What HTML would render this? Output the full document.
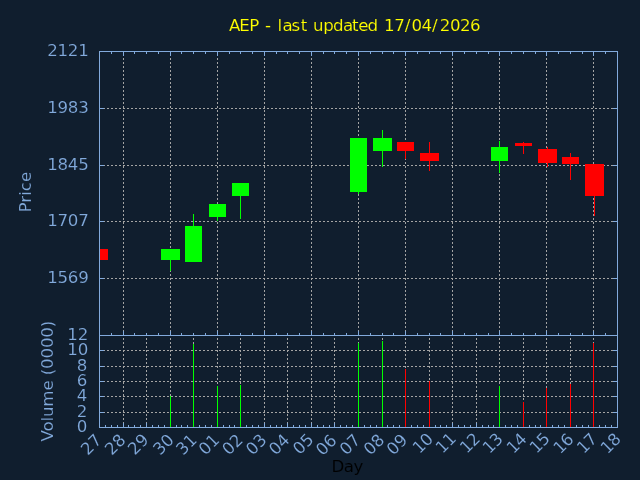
<!DOCTYPE html><html><head><meta charset="utf-8"><title>AEP</title><style>html,body{margin:0;padding:0;background:#101e2e;overflow:hidden}svg{display:block}text{font-family:"DejaVu Sans","Liberation Sans",sans-serif;font-size:16.67px;stroke:#101e2e;stroke-width:0.15px}</style></head><body>
<svg width="640" height="480" viewBox="0 0 640 480">
<rect width="640" height="480" fill="#101e2e"/>
<g stroke="#a4a4a4" stroke-width="1" stroke-dasharray="2 2" shape-rendering="crispEdges" fill="none">
<path d="M123.5 336V52"/>
<path d="M170.5 336V52"/>
<path d="M217.5 336V52"/>
<path d="M264.5 336V52"/>
<path d="M311.5 336V52"/>
<path d="M358.5 336V52"/>
<path d="M405.5 336V52"/>
<path d="M452.5 336V52"/>
<path d="M499.5 336V52"/>
<path d="M546.5 336V52"/>
<path d="M593.5 336V52"/>
<path d="M99 108.5H617"/>
<path d="M99 165.5H617"/>
<path d="M99 221.5H617"/>
<path d="M99 278.5H617"/>
<path d="M123.5 428V336"/>
<path d="M146.5 428V336"/>
<path d="M170.5 428V336"/>
<path d="M193.5 428V336"/>
<path d="M217.5 428V336"/>
<path d="M240.5 428V336"/>
<path d="M264.5 428V336"/>
<path d="M287.5 428V336"/>
<path d="M311.5 428V336"/>
<path d="M334.5 428V336"/>
<path d="M358.5 428V336"/>
<path d="M382.5 428V336"/>
<path d="M405.5 428V336"/>
<path d="M429.5 428V336"/>
<path d="M452.5 428V336"/>
<path d="M476.5 428V336"/>
<path d="M499.5 428V336"/>
<path d="M523.5 428V336"/>
<path d="M546.5 428V336"/>
<path d="M570.5 428V336"/>
<path d="M593.5 428V336"/>
<path d="M99 350.5H617"/>
<path d="M99 366.5H617"/>
<path d="M99 381.5H617"/>
<path d="M99 396.5H617"/>
<path d="M99 412.5H617"/>
</g>
<g stroke="#82aadc" stroke-width="1" shape-rendering="crispEdges" fill="none">
<path d="M111.5 52v2 M111.5 335v-2"/>
<path d="M123.5 52v4 M123.5 335v-4"/>
<path d="M134.5 52v2 M134.5 335v-2"/>
<path d="M146.5 52v2 M146.5 335v-2"/>
<path d="M158.5 52v2 M158.5 335v-2"/>
<path d="M170.5 52v4 M170.5 335v-4"/>
<path d="M181.5 52v2 M181.5 335v-2"/>
<path d="M193.5 52v2 M193.5 335v-2"/>
<path d="M205.5 52v2 M205.5 335v-2"/>
<path d="M217.5 52v4 M217.5 335v-4"/>
<path d="M229.5 52v2 M229.5 335v-2"/>
<path d="M240.5 52v2 M240.5 335v-2"/>
<path d="M252.5 52v2 M252.5 335v-2"/>
<path d="M264.5 52v4 M264.5 335v-4"/>
<path d="M276.5 52v2 M276.5 335v-2"/>
<path d="M287.5 52v2 M287.5 335v-2"/>
<path d="M299.5 52v2 M299.5 335v-2"/>
<path d="M311.5 52v4 M311.5 335v-4"/>
<path d="M323.5 52v2 M323.5 335v-2"/>
<path d="M334.5 52v2 M334.5 335v-2"/>
<path d="M346.5 52v2 M346.5 335v-2"/>
<path d="M358.5 52v4 M358.5 335v-4"/>
<path d="M370.5 52v2 M370.5 335v-2"/>
<path d="M382.5 52v2 M382.5 335v-2"/>
<path d="M393.5 52v2 M393.5 335v-2"/>
<path d="M405.5 52v4 M405.5 335v-4"/>
<path d="M417.5 52v2 M417.5 335v-2"/>
<path d="M429.5 52v2 M429.5 335v-2"/>
<path d="M440.5 52v2 M440.5 335v-2"/>
<path d="M452.5 52v4 M452.5 335v-4"/>
<path d="M464.5 52v2 M464.5 335v-2"/>
<path d="M476.5 52v2 M476.5 335v-2"/>
<path d="M488.5 52v2 M488.5 335v-2"/>
<path d="M499.5 52v4 M499.5 335v-4"/>
<path d="M511.5 52v2 M511.5 335v-2"/>
<path d="M523.5 52v2 M523.5 335v-2"/>
<path d="M535.5 52v2 M535.5 335v-2"/>
<path d="M546.5 52v4 M546.5 335v-4"/>
<path d="M558.5 52v2 M558.5 335v-2"/>
<path d="M570.5 52v2 M570.5 335v-2"/>
<path d="M582.5 52v2 M582.5 335v-2"/>
<path d="M593.5 52v4 M593.5 335v-4"/>
<path d="M605.5 52v2 M605.5 335v-2"/>
<path d="M100 108.5h4 M617 108.5h-4"/>
<path d="M100 165.5h4 M617 165.5h-4"/>
<path d="M100 221.5h4 M617 221.5h-4"/>
<path d="M100 278.5h4 M617 278.5h-4"/>
<path d="M105.5 427v-2"/>
<path d="M111.5 427v-2"/>
<path d="M117.5 427v-2"/>
<path d="M123.5 427v-4"/>
<path d="M128.5 427v-2"/>
<path d="M134.5 427v-2"/>
<path d="M140.5 427v-2"/>
<path d="M146.5 427v-4"/>
<path d="M152.5 427v-2"/>
<path d="M158.5 427v-2"/>
<path d="M164.5 427v-2"/>
<path d="M170.5 427v-4"/>
<path d="M176.5 427v-2"/>
<path d="M181.5 427v-2"/>
<path d="M187.5 427v-2"/>
<path d="M193.5 427v-4"/>
<path d="M199.5 427v-2"/>
<path d="M205.5 427v-2"/>
<path d="M211.5 427v-2"/>
<path d="M217.5 427v-4"/>
<path d="M223.5 427v-2"/>
<path d="M229.5 427v-2"/>
<path d="M234.5 427v-2"/>
<path d="M240.5 427v-4"/>
<path d="M246.5 427v-2"/>
<path d="M252.5 427v-2"/>
<path d="M258.5 427v-2"/>
<path d="M264.5 427v-4"/>
<path d="M270.5 427v-2"/>
<path d="M276.5 427v-2"/>
<path d="M281.5 427v-2"/>
<path d="M287.5 427v-4"/>
<path d="M293.5 427v-2"/>
<path d="M299.5 427v-2"/>
<path d="M305.5 427v-2"/>
<path d="M311.5 427v-4"/>
<path d="M317.5 427v-2"/>
<path d="M323.5 427v-2"/>
<path d="M329.5 427v-2"/>
<path d="M334.5 427v-4"/>
<path d="M340.5 427v-2"/>
<path d="M346.5 427v-2"/>
<path d="M352.5 427v-2"/>
<path d="M358.5 427v-4"/>
<path d="M364.5 427v-2"/>
<path d="M370.5 427v-2"/>
<path d="M376.5 427v-2"/>
<path d="M382.5 427v-4"/>
<path d="M387.5 427v-2"/>
<path d="M393.5 427v-2"/>
<path d="M399.5 427v-2"/>
<path d="M405.5 427v-4"/>
<path d="M411.5 427v-2"/>
<path d="M417.5 427v-2"/>
<path d="M423.5 427v-2"/>
<path d="M429.5 427v-4"/>
<path d="M435.5 427v-2"/>
<path d="M440.5 427v-2"/>
<path d="M446.5 427v-2"/>
<path d="M452.5 427v-4"/>
<path d="M458.5 427v-2"/>
<path d="M464.5 427v-2"/>
<path d="M470.5 427v-2"/>
<path d="M476.5 427v-4"/>
<path d="M482.5 427v-2"/>
<path d="M488.5 427v-2"/>
<path d="M493.5 427v-2"/>
<path d="M499.5 427v-4"/>
<path d="M505.5 427v-2"/>
<path d="M511.5 427v-2"/>
<path d="M517.5 427v-2"/>
<path d="M523.5 427v-4"/>
<path d="M529.5 427v-2"/>
<path d="M535.5 427v-2"/>
<path d="M540.5 427v-2"/>
<path d="M546.5 427v-4"/>
<path d="M552.5 427v-2"/>
<path d="M558.5 427v-2"/>
<path d="M564.5 427v-2"/>
<path d="M570.5 427v-4"/>
<path d="M576.5 427v-2"/>
<path d="M582.5 427v-2"/>
<path d="M588.5 427v-2"/>
<path d="M593.5 427v-4"/>
<path d="M599.5 427v-2"/>
<path d="M605.5 427v-2"/>
<path d="M611.5 427v-2"/>
<path d="M100 350.5h4 M617 350.5h-4"/>
<path d="M100 366.5h4 M617 366.5h-4"/>
<path d="M100 381.5h4 M617 381.5h-4"/>
<path d="M100 396.5h4 M617 396.5h-4"/>
<path d="M100 412.5h4 M617 412.5h-4"/>
</g>
<g shape-rendering="crispEdges">
<rect x="100" y="249" width="8" height="11" fill="#ff0000"/>
<rect x="170" y="249" width="1" height="22" fill="#00ff00"/>
<rect x="161" y="249" width="19" height="11" fill="#00ff00"/>
<rect x="193" y="214" width="1" height="48" fill="#00ff00"/>
<rect x="185" y="226" width="17" height="36" fill="#00ff00"/>
<rect x="217" y="204" width="1" height="17" fill="#00ff00"/>
<rect x="209" y="204" width="17" height="13" fill="#00ff00"/>
<rect x="240" y="183" width="1" height="36" fill="#00ff00"/>
<rect x="232" y="183" width="17" height="13" fill="#00ff00"/>
<rect x="358" y="138" width="1" height="56" fill="#00ff00"/>
<rect x="350" y="138" width="17" height="54" fill="#00ff00"/>
<rect x="382" y="130" width="1" height="37" fill="#00ff00"/>
<rect x="373" y="138" width="19" height="13" fill="#00ff00"/>
<rect x="405" y="142" width="1" height="17" fill="#ff0000"/>
<rect x="397" y="142" width="17" height="9" fill="#ff0000"/>
<rect x="429" y="142" width="1" height="29" fill="#ff0000"/>
<rect x="420" y="153" width="19" height="8" fill="#ff0000"/>
<rect x="499" y="141" width="1" height="32" fill="#00ff00"/>
<rect x="491" y="147" width="17" height="14" fill="#00ff00"/>
<rect x="523" y="142" width="1" height="12" fill="#ff0000"/>
<rect x="515" y="143" width="17" height="3" fill="#ff0000"/>
<rect x="547" y="147" width="1" height="20" fill="#ff0000"/>
<rect x="538" y="149" width="19" height="14" fill="#ff0000"/>
<rect x="570" y="153" width="1" height="27" fill="#ff0000"/>
<rect x="562" y="157" width="17" height="7" fill="#ff0000"/>
<rect x="594" y="164" width="1" height="52" fill="#ff0000"/>
<rect x="585" y="164" width="19" height="32" fill="#ff0000"/>
<rect x="170" y="396" width="1" height="31" fill="#00ff00"/>
<rect x="193" y="344" width="1" height="83" fill="#00ff00"/>
<rect x="217" y="386" width="1" height="41" fill="#00ff00"/>
<rect x="240" y="385" width="1" height="42" fill="#00ff00"/>
<rect x="358" y="343" width="1" height="84" fill="#00ff00"/>
<rect x="382" y="341" width="1" height="86" fill="#00ff00"/>
<rect x="405" y="369" width="1" height="58" fill="#ff0000"/>
<rect x="429" y="381" width="1" height="46" fill="#ff0000"/>
<rect x="499" y="386" width="1" height="41" fill="#00ff00"/>
<rect x="523" y="402" width="1" height="25" fill="#ff0000"/>
<rect x="546" y="388" width="1" height="39" fill="#ff0000"/>
<rect x="570" y="384" width="1" height="43" fill="#ff0000"/>
<rect x="593" y="343" width="1" height="84" fill="#ff0000"/>
</g>
<g stroke="#82aadc" stroke-width="1" shape-rendering="crispEdges" fill="none">
<rect x="99.5" y="51.5" width="518" height="284"/>
<rect x="99.5" y="335.5" width="518" height="92"/>
</g>
<g fill="#82aadc">
<text x="88.5" y="56" text-anchor="end" letter-spacing="-0.28">2121</text>
<text x="88.5" y="113" text-anchor="end" letter-spacing="-0.28">1983</text>
<text x="88.5" y="170" text-anchor="end" letter-spacing="-0.28">1845</text>
<text x="88.5" y="226" text-anchor="end" letter-spacing="-0.28">1707</text>
<text x="88.5" y="283" text-anchor="end" letter-spacing="-0.28">1569</text>
<text x="88.25" y="340" text-anchor="end" letter-spacing="-0.05">12</text>
<text x="88.25" y="355" text-anchor="end" letter-spacing="-0.05">10</text>
<text x="87.4" y="370.8" text-anchor="end">8</text>
<text x="87.4" y="386.1" text-anchor="end">6</text>
<text x="87.4" y="401.4" text-anchor="end">4</text>
<text x="87.4" y="416.8" text-anchor="end">2</text>
<text x="87.4" y="432.1" text-anchor="end">0</text>
<text transform="translate(102.8 440.9) rotate(-45)" text-anchor="end">27</text>
<text transform="translate(126.8 441.0) rotate(-45)" text-anchor="end">28</text>
<text transform="translate(149.8 440.8) rotate(-45)" text-anchor="end">29</text>
<text transform="translate(175.0 440.9) rotate(-45)" text-anchor="end">30</text>
<text transform="translate(197.9 440.9) rotate(-45)" text-anchor="end">31</text>
<text transform="translate(220.6 441.0) rotate(-45)" text-anchor="end">01</text>
<text transform="translate(244.0 441.0) rotate(-45)" text-anchor="end">02</text>
<text transform="translate(267.7 441.0) rotate(-45)" text-anchor="end">03</text>
<text transform="translate(290.8 441.0) rotate(-45)" text-anchor="end">04</text>
<text transform="translate(314.8 440.6) rotate(-45)" text-anchor="end">05</text>
<text transform="translate(337.7 441.4) rotate(-45)" text-anchor="end">06</text>
<text transform="translate(361.6 441.0) rotate(-45)" text-anchor="end">07</text>
<text transform="translate(385.5 441.1) rotate(-45)" text-anchor="end">08</text>
<text transform="translate(408.6 440.9) rotate(-45)" text-anchor="end">09</text>
<text transform="translate(434.2 439.9) rotate(-45)" text-anchor="end" dx="0 -0.5">10</text>
<text transform="translate(457.2 439.6) rotate(-45)" text-anchor="end" dx="0 -0.5">11</text>
<text transform="translate(481.3 439.7) rotate(-45)" text-anchor="end" dx="0 -0.5">12</text>
<text transform="translate(504.1 439.9) rotate(-45)" text-anchor="end" dx="0 -0.5">13</text>
<text transform="translate(528.1 439.9) rotate(-45)" text-anchor="end" dx="0 -0.5">14</text>
<text transform="translate(551.1 439.6) rotate(-45)" text-anchor="end" dx="0 -0.5">15</text>
<text transform="translate(574.8 440.2) rotate(-45)" text-anchor="end" dx="0 -0.5">16</text>
<text transform="translate(598.3 439.9) rotate(-45)" text-anchor="end" dx="0 -0.5">17</text>
<text transform="translate(622.1 440.0) rotate(-45)" text-anchor="end" dx="0 -0.5">18</text>
<text transform="translate(31 192.1) rotate(-90)" text-anchor="middle">Price</text>
<text transform="translate(53 381.2) rotate(-90)" text-anchor="middle" letter-spacing="-0.15">Volume (0000)</text>
</g>
<text x="331.5" y="471.75" letter-spacing="-0.5" fill="#000">Day</text>
<text x="229.07 239.36 249.36 259.69 264.99 272.13 277.43 282.40 291.60 300.65 307.28 313.00 323.29 333.00 343.00 351.95 358.30 367.50 378.67 383.97 394.13 404.80 411.40 421.39 432.00 439.78 449.90 459.98 470.04" y="30.5" fill="#ffff00">AEP - last updated 17/04/2026</text>
</svg></body></html>
